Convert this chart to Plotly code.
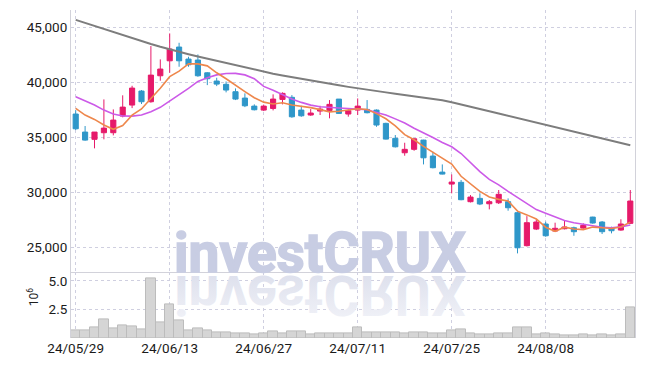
import plotly.graph_objects as go

dates = ["24/05/29", "24/05/30", "24/05/31", "24/06/03", "24/06/04", "24/06/05", "24/06/07",
         "24/06/10", "24/06/11", "24/06/12", "24/06/13", "24/06/14", "24/06/17", "24/06/18",
         "24/06/19", "24/06/20", "24/06/21", "24/06/24", "24/06/25", "24/06/26", "24/06/27",
         "24/06/28", "24/07/01", "24/07/02", "24/07/03", "24/07/04", "24/07/05", "24/07/08",
         "24/07/09", "24/07/10", "24/07/11", "24/07/12", "24/07/15", "24/07/16", "24/07/17",
         "24/07/18", "24/07/19", "24/07/22", "24/07/23", "24/07/24", "24/07/25", "24/07/26",
         "24/07/29", "24/07/30", "24/07/31", "24/08/01", "24/08/02", "24/08/05", "24/08/06",
         "24/08/07", "24/08/08", "24/08/09", "24/08/12", "24/08/13", "24/08/14", "24/08/16",
         "24/08/19", "24/08/20", "24/08/21", "24/08/22"]

open_ = [37140, 35500, 34840, 35440, 35440, 36955, 37955, 39230, 38260, 40620,
         41980, 43230, 42140, 42050, 40890, 40140, 39840, 39170, 38590, 37860,
         37500, 37650, 38470, 38660, 37500, 37050, 37410, 37470, 38500, 37140,
         37500, 37560, 37500, 36290, 34930, 33620, 33930, 34770, 33320, 31860,
         30770, 30930, 29170, 29470, 28980, 29070, 29170, 28170, 25170, 26680,
         27140, 26500, 26710, 26800, 26770, 27770, 27320, 26800, 26590, 27200]
high = [37500, 36050, 35500, 38470, 37560, 38840, 39710, 39320, 43320, 42110,
        44470, 43620, 42350, 42560, 40950, 40440, 40100, 39470, 39020, 38020,
        38000, 38930, 39110, 38860, 37890, 37590, 37890, 38410, 38500, 37560,
        38560, 38410, 37560, 36350, 35230, 34530, 34920, 34800, 33710, 32560,
        31650, 31140, 29770, 29930, 29320, 30230, 29470, 28260, 27860, 27570,
        27350, 27260, 27500, 26900, 27200, 27800, 27410, 26900, 27570, 30230]
low = [35680, 34710, 34020, 34840, 35200, 36840, 37680, 38050, 38170, 40170,
       40890, 41440, 41440, 40530, 39770, 39680, 39110, 38410, 37770, 37470,
       37410, 37470, 38020, 36800, 36890, 36980, 37050, 36750, 37150, 36900,
       37050, 37200, 35980, 34820, 34100, 33350, 33800, 32560, 32200, 31650,
       29930, 29300, 29100, 28860, 28470, 28960, 28350, 24470, 25100, 26590,
       25980, 26440, 26650, 26070, 26710, 27170, 26230, 26290, 26530, 27150]
close = [35800, 34770, 35500, 35860, 36590, 37770, 39500, 38260, 40680, 41230,
         43050, 41980, 41620, 40620, 40350, 39860, 39320, 38500, 37890, 37530,
         37860, 38500, 39020, 36890, 36980, 37230, 37590, 38020, 37200, 37440,
         37860, 37260, 36140, 34860, 34160, 33930, 34890, 33160, 32260, 31680,
         30955, 29350, 29590, 28960, 29170, 29840, 28620, 24980, 27260, 27320,
         26070, 26750, 26870, 26440, 27020, 27230, 26440, 26530, 27140, 29230]

volume = [640000, 640000, 910000, 1610000, 820000, 1080000, 990000, 730000, 5200000, 1350000,
          2920000, 1520000, 640000, 820000, 640000, 470000, 470000, 380000, 380000, 290000,
          380000, 560000, 380000, 560000, 560000, 290000, 380000, 380000, 380000, 380000,
          910000, 470000, 470000, 470000, 470000, 380000, 470000, 470000, 380000, 380000,
          640000, 730000, 380000, 290000, 290000, 380000, 380000, 910000, 910000, 290000,
          380000, 290000, 200000, 200000, 290000, 200000, 290000, 200000, 290000, 2660000]

ma5 = [37650, 37050, 36650, 36140, 35750, 36100, 37040, 37600, 38560, 39490,
       40540, 41040, 41710, 41700, 41520, 40890, 40350, 39730, 39180, 38620,
       38220, 38060, 38160, 37960, 37850, 37720, 37540, 37340, 37400, 37500,
       37620, 37560, 37180, 36710, 36060, 35270, 34800, 34200, 33680, 33180,
       32590, 31480, 30770, 30110, 29600, 29380, 29240, 28310, 27970, 27600,
       26850, 26480, 26850, 26690, 26630, 26860, 26800, 26730, 26870, 27310]
ma20 = [38710, 38350, 37960, 37500, 37140, 36960, 36950, 37050, 37350, 37750,
        38300, 38864, 39470, 40100, 40450, 40700, 40830, 40840, 40700, 40350,
        39650, 39300, 38900, 38500, 38200, 37950, 37800, 37720, 37690, 37650,
        37600, 37530, 37280, 37050, 36700, 36330, 35850, 35450, 35000, 34550,
        34160, 33550, 32700, 31900, 31200, 30700, 30100, 29550, 28950, 28450,
        28110, 27800, 27450, 27250, 27100, 27000, 26850, 26800, 26880, 27050]
ma120 = [45700, 45420, 45140, 44860, 44580, 44310, 44040, 43770, 43510, 43260,
         43010, 42790, 42580, 42370, 42170, 41970, 41770, 41570, 41370, 41170,
         40970, 40810, 40650, 40490, 40330, 40170, 40030, 39890, 39750, 39610,
         39470, 39350, 39230, 39110, 38990, 38870, 38760, 38640, 38520, 38400,
         38210, 38020, 37820, 37610, 37400, 37190, 36980, 36770, 36560, 36350,
         36140, 35930, 35730, 35530, 35330, 35130, 34920, 34720, 34510, 34300]

price_ticks = [25000, 30000, 35000, 40000, 45000]
vol_ticks = [2.5, 5.0]
vol_labels = ["2.5", "5.0"]
date_ticks = dates[::10]

UP = "#e61a6a"
DOWN = "#2f97c9"
GRID = "#cfcfe0"
LINE = "#d2d2da"
FONT = dict(family="Roboto", size=13.5, color="#1a1a1a")

fig = go.Figure()
fig.add_trace(go.Candlestick(
    x=dates, open=open_, high=high, low=low, close=close,
    increasing=dict(line=dict(color=UP, width=1), fillcolor=UP),
    decreasing=dict(line=dict(color=DOWN, width=1), fillcolor=DOWN),
    whiskerwidth=0, xaxis="x", yaxis="y", showlegend=False, hoverinfo="skip"))
for ma, col, w in [(ma120, "#7d7d7d", 2), (ma20, "#cc5ae8", 1.6), (ma5, "#ee874c", 1.6)]:
    fig.add_trace(go.Scatter(x=dates, y=ma, mode="lines", line=dict(color=col, width=w),
                             xaxis="x", yaxis="y", showlegend=False, hoverinfo="skip"))
fig.add_trace(go.Bar(x=dates, y=[v / 1e6 for v in volume],
                     marker=dict(color="#d5d5d5", line=dict(color="#bcbcbc", width=1)),
                     xaxis="x2", yaxis="y2", showlegend=False, hoverinfo="skip"))

PLOT_H = 366 - 10 - 28.3
fig.update_layout(
    width=645, height=366, autosize=False,
    margin=dict(l=71, r=10, t=10, b=28.3, pad=0),
    paper_bgcolor="white", plot_bgcolor="white", showlegend=False,
    boxgap=0.22, bargap=0,
    xaxis=dict(type="category", domain=[0, 1], anchor="y", range=[-0.5, 59.5],
               rangeslider=dict(visible=False), showticklabels=False,
               tickmode="array", tickvals=date_ticks, ticks="",
               showgrid=True, gridcolor=GRID, griddash="dot", gridwidth=1,
               showline=True, linecolor=LINE, linewidth=1, zeroline=False),
    yaxis=dict(domain=[0.202, 1], range=[22800, 46600], tickmode="array",
               tickvals=price_ticks, tickformat=",d", ticks="", tickfont=FONT,
               showgrid=True, gridcolor=GRID, griddash="dot", gridwidth=1,
               showline=True, mirror=True, linecolor=LINE, linewidth=1, zeroline=False),
    xaxis2=dict(type="category", domain=[0, 1], anchor="y2", range=[-0.5, 59.5],
                tickmode="array", tickvals=date_ticks, ticks="", tickfont=FONT,
                showgrid=True, gridcolor=GRID, griddash="dot", gridwidth=1,
                showline=False, zeroline=False),
    yaxis2=dict(domain=[0, 0.2], range=[0, 5.75], tickmode="array",
                tickvals=vol_ticks, ticktext=vol_labels, ticks="", tickfont=FONT,
                showgrid=True, gridcolor=GRID, griddash="dot", gridwidth=1,
                showline=True, mirror=True, linecolor=LINE, linewidth=1, zeroline=False),
    annotations=[
        dict(text="investCRUX", xref="paper", yref="paper", x=(320 - 71) / 564,
             y=(337.7 - 253) / PLOT_H, xanchor="center", yanchor="middle", showarrow=False,
             font=dict(family="Roboto", size=55, color="#c8cde3", weight="bold")),
        dict(text="investCRUX", xref="paper", yref="paper", x=(320 - 71) / 564,
             y=(337.7 - 295) / PLOT_H, xanchor="center", yanchor="middle", showarrow=False,
             font=dict(family="Roboto", size=55, color="#e3e6f0", weight="bold")),
        dict(text="10<sup>6</sup>", xref="paper", yref="paper", x=(33 - 71) / 564,
             y=(337.7 - 297) / PLOT_H, xanchor="center", yanchor="middle", showarrow=False,
             textangle=-90, font=dict(family="Roboto", size=12, color="#1e1e1e")),
    ],
)

post = """
document.body.style.margin='0';
var gd=document.getElementById('{plot_id}');
function styleWatermark(){
  var svg=gd.querySelector('svg.main-svg');
  if(svg && !document.getElementById('wmfade')){
    var ns='http://www.w3.org/2000/svg';
    var defs=document.createElementNS(ns,'defs');
    var lg=document.createElementNS(ns,'linearGradient');
    lg.setAttribute('id','wmfade');lg.setAttribute('x1','0');lg.setAttribute('y1','0');
    lg.setAttribute('x2','0');lg.setAttribute('y2','1');
    var s1=document.createElementNS(ns,'stop');s1.setAttribute('offset','0');s1.setAttribute('stop-color','#f3f4f9');
    var s2=document.createElementNS(ns,'stop');s2.setAttribute('offset','1');s2.setAttribute('stop-color','#d9dcea');
    lg.appendChild(s1);lg.appendChild(s2);defs.appendChild(lg);svg.insertBefore(defs,svg.firstChild);
  }
  var m=gd.querySelector('.annotation[data-index="0"] text');
  if(m){m.style.stroke='#c8cde3';m.style.strokeWidth='1.6px';}
  var t=gd.querySelector('.annotation[data-index="1"] text');
  if(t){t.style.transformBox='fill-box';t.style.transformOrigin='center';t.style.transform='scaleY(-1)';
        t.style.fill='url(#wmfade)';}
}
styleWatermark();
if(gd.on){gd.on('plotly_afterplot', styleWatermark);}
"""
fig.write_html("out.html", post_script=post, config={"displayModeBar": False})
